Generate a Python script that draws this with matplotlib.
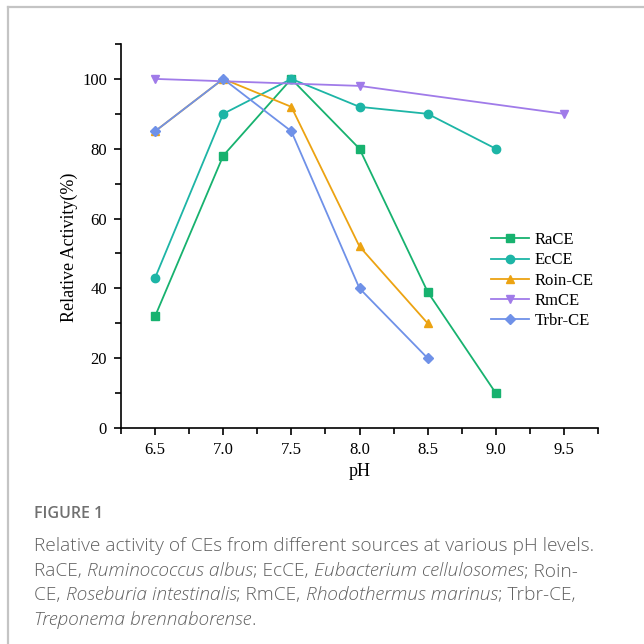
import matplotlib
matplotlib.use("Agg")
import matplotlib.pyplot as plt
from matplotlib.lines import Line2D
from matplotlib.ticker import MultipleLocator

# data
ph_race = [6.5, 7.0, 7.5, 8.0, 8.5, 9.0]
race = [32, 78, 100, 80, 39, 10]
ph_ecce = [6.5, 7.0, 7.5, 8.0, 8.5, 9.0]
ecce = [43, 90, 100, 92, 90, 80]
ph_roin = [6.5, 7.0, 7.5, 8.0, 8.5]
roin = [85, 100, 92, 52, 30]
ph_rmce = [6.5, 8.0, 9.5]
rmce = [100, 98, 90]
ph_trbr = [6.5, 7.0, 7.5, 8.0, 8.5]
trbr = [85, 100, 85, 40, 20]

series = [
    ("RaCE", ph_race, race, "#17b26f", "s"),
    ("EcCE", ph_ecce, ecce, "#1db5a6", "o"),
    ("Roin-CE", ph_roin, roin, "#eca312", "^"),
    ("RmCE", ph_rmce, rmce, "#a07be9", "v"),
    ("Trbr-CE", ph_trbr, trbr, "#6f91e8", "D"),
]

caption_title = "FIGURE 1"
caption_lines = [
    [("Relative activity of CEs from different sources at various pH levels.", "normal")],
    [("RaCE, ", "normal"), ("Ruminococcus albus", "italic"), ("; EcCE, ", "normal"),
     ("Eubacterium cellulosomes", "italic"), ("; Roin-", "normal")],
    [("CE, ", "normal"), ("Roseburia intestinalis", "italic"), ("; RmCE, ", "normal"),
     ("Rhodothermus marinus", "italic"), ("; Trbr-CE,", "normal")],
    [("Treponema brennaborense", "italic"), (".", "normal")],
]

W = H = 644
fig = plt.figure(figsize=(6.44, 6.44), dpi=100)
ax = fig.add_axes([121 / W, 1 - 428 / H, 477 / W, 384 / H])

serif = "Liberation Serif"
for name, x, y, c, m in series:
    ms = 6 if m != "D" else 5.5
    ax.plot(x, y, color=c, marker=m, ms=ms, lw=1.3, label=name)

ax.set_xlim(6.25, 9.75)
ax.set_ylim(0, 110)
ax.xaxis.set_major_locator(MultipleLocator(0.5))
ax.xaxis.set_minor_locator(MultipleLocator(0.25))
ax.yaxis.set_major_locator(MultipleLocator(20))
ax.yaxis.set_minor_locator(MultipleLocator(10))
ax.spines["top"].set_visible(False)
ax.spines["right"].set_visible(False)
for s in ["left", "bottom"]:
    ax.spines[s].set_linewidth(1.2)
ax.tick_params(which="major", direction="out", length=5, width=1.2, labelsize=12, pad=5)
ax.tick_params(which="minor", direction="out", length=4, width=1.2)
ax.set_xticks([6.5, 7.0, 7.5, 8.0, 8.5, 9.0, 9.5])
ax.set_xticklabels(["6.5", "7.0", "7.5", "8.0", "8.5", "9.0", "9.5"])
ax.set_yticks([0, 20, 40, 60, 80, 100])
for lab in ax.get_xticklabels() + ax.get_yticklabels():
    lab.set_fontfamily(serif)
ax.set_xlabel("pH", fontfamily=serif, fontsize=13, labelpad=4)
ax.set_ylabel("Relative Activity(%)", fontfamily=serif, fontsize=13)
ax.yaxis.set_label_coords(-0.091, 0.47)

ax.legend(loc="upper left", bbox_to_anchor=(0.762, 0.527), frameon=False,
          prop={"family": serif, "size": 12}, handlelength=2.3,
          labelspacing=0.25, handletextpad=0.3, borderaxespad=0)

# outer frame of the figure panel
frame_c = "#c4c4c4"
fig.add_artist(Line2D([8 / W, 1], [1 - 7 / H, 1 - 7 / H], color=frame_c, lw=1.6))
fig.add_artist(Line2D([8 / W, 8 / W], [0, 1 - 7 / H], color=frame_c, lw=1.6))

# caption
cap_font = "Open Sans"
fig.text(34 / W, 1 - 514 / H, caption_title, fontfamily=cap_font, fontsize=11.5,
         color="#707070", fontweight="semibold", va="center")

fig.canvas.draw()
renderer = fig.canvas.get_renderer()
y0 = 546
fs = 13.8
for i, line in enumerate(caption_lines):
    xpix = 34
    ypix = y0 + i * 24.7
    for txt, style in line:
        fig.text(xpix / W, 1 - ypix / H, txt, fontfamily=cap_font, fontsize=fs,
                 color="#606060", style=style, fontweight="light", va="center")
        # measure width with a sentinel so trailing spaces count
        probe = fig.text(0, 0, txt + "|", fontfamily=cap_font, fontsize=fs, style=style,
                         fontweight="light")
        bar = fig.text(0, 0, "|", fontfamily=cap_font, fontsize=fs, style=style,
                       fontweight="light")
        wpix = probe.get_window_extent(renderer).width - bar.get_window_extent(renderer).width
        probe.remove()
        bar.remove()
        xpix += wpix

fig.savefig("out.png", dpi=100)
